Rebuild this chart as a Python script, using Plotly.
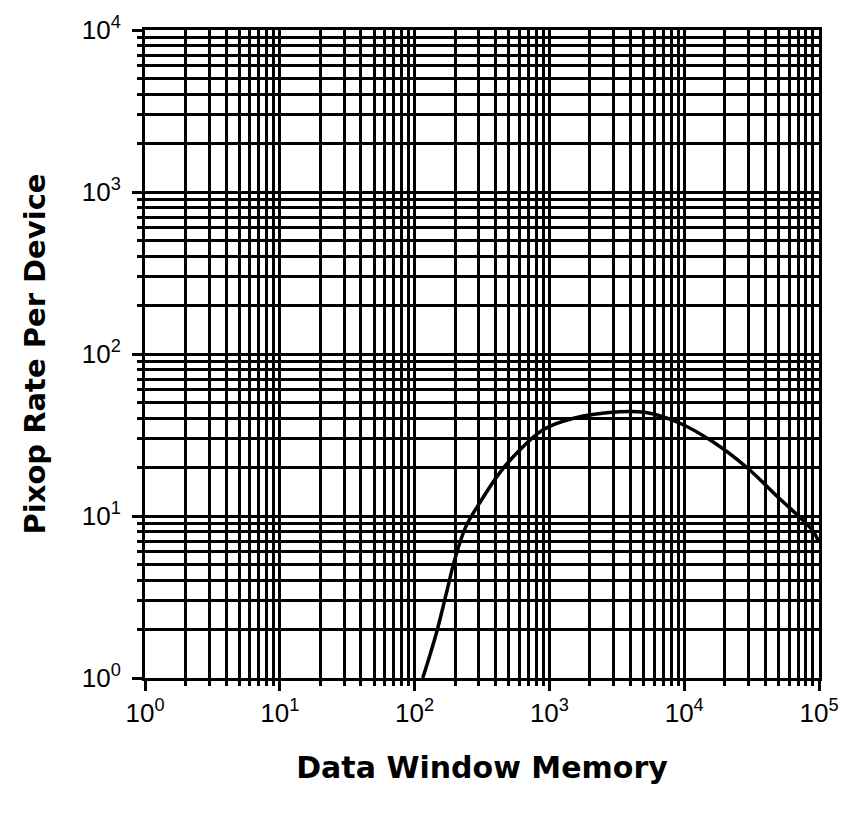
import plotly.graph_objects as go

# Data
memory = [115, 145, 172, 198, 240, 303, 426, 600, 893, 1490, 3300, 5200, 9200, 16000, 29000, 50000, 89000, 100000]
pixop_rate = [1.0, 1.89, 3.33, 5.35, 8.6, 12.0, 18.4, 25.5, 34, 40, 44, 43.5, 37.5, 29, 20, 13, 8.2, 6.9]

x_tick_vals = [1, 10, 100, 1000, 10000, 100000]
x_tick_text = ["10<sup>0</sup>", "10<sup>1</sup>", "10<sup>2</sup>", "10<sup>3</sup>", "10<sup>4</sup>", "10<sup>5</sup>"]
y_tick_vals = [1, 10, 100, 1000, 10000]
y_tick_text = ["10<sup>0</sup>", "10<sup>1</sup>", "10<sup>2</sup>", "10<sup>3</sup>", "10<sup>4</sup>"]

fig = go.Figure()
fig.add_trace(go.Scatter(
    x=memory, y=pixop_rate, mode="lines",
    line=dict(color="black", width=3.5, shape="spline", smoothing=1.0),
    showlegend=False,
))

font = "Liberation Sans, Arial, Helvetica, sans-serif"
title_font = "DejaVu Sans, Liberation Sans, sans-serif"
axis_common = dict(
    type="log",
    showline=True, linecolor="black", linewidth=3, mirror=True,
    showgrid=True, gridcolor="black", gridwidth=3,
    ticks="outside", ticklen=10, tickwidth=3, tickcolor="black",
    tickfont=dict(family=font, size=26, color="black"),
    minor=dict(dtick="D1", showgrid=True, gridcolor="black", gridwidth=2.5,
               ticks="outside", ticklen=5, tickwidth=2.5, tickcolor="black"),
    zeroline=False,
)

fig.update_layout(
    width=851, height=813,
    margin=dict(l=145, r=31, t=26, b=135),
    paper_bgcolor="white", plot_bgcolor="white",
    font=dict(family=font, color="black"),
    xaxis=dict(
        range=[0, 5], tickvals=x_tick_vals, ticktext=x_tick_text,
        title=dict(text="<b>Data Window Memory</b>", font=dict(family=title_font, size=30, color="black"), standoff=30),
        **axis_common,
    ),
    yaxis=dict(
        range=[0, 4], tickvals=y_tick_vals, ticktext=y_tick_text,
        ticklabelstandoff=6,
        title=dict(text="<b>Pixop Rate Per Device</b>", font=dict(family=title_font, size=29, color="black"), standoff=28),
        **axis_common,
    ),
)

fig.write_html("out.html")
